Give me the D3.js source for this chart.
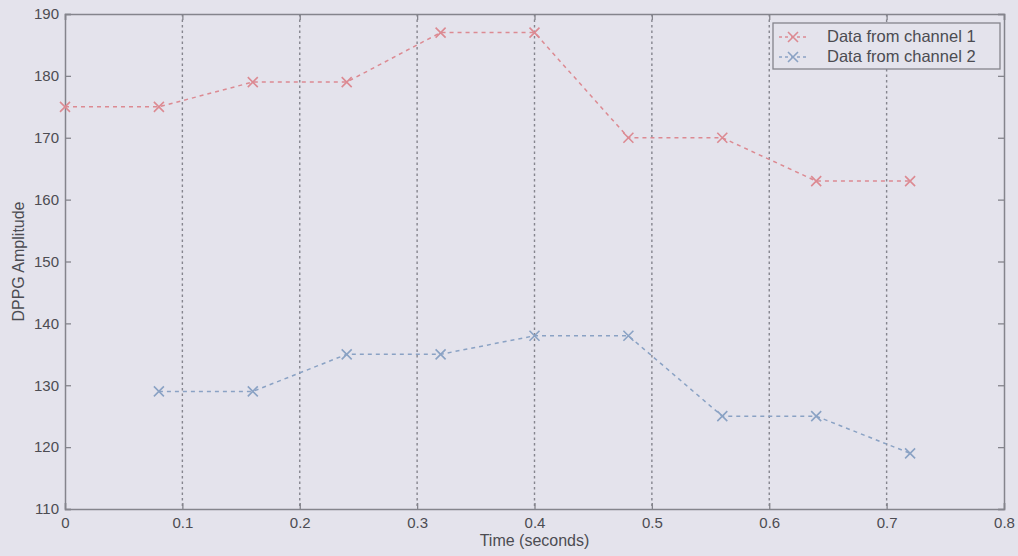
<!DOCTYPE html>
<html lang="en">
<head>
  <meta charset="utf-8">
  <title>DPPG Amplitude</title>
  <script src="https://cdn.jsdelivr.net/npm/d3@7"></script>
  <style>
    * { margin: 0; padding: 0; }
    body { background: #e4e3ec; }
    svg { display: block; font-family: "Liberation Sans", Arial, sans-serif; }
  </style>
</head>
<body>
  <div id="chart"></div>
  <script>
    // data
    var times = [0, 0.08, 0.16, 0.24, 0.32, 0.40, 0.48, 0.56, 0.64, 0.72];
    var channel1 = [175, 175, 179, 179, 187, 187, 170, 170, 163, 163];
    var channel2 = [null, 129, 129, 135, 135, 138, 138, 125, 125, 119];
    var seriesNames = ["Data from channel 1", "Data from channel 2"];
    var xTicks = [0, 0.1, 0.2, 0.3, 0.4, 0.5, 0.6, 0.7, 0.8];
    var yTicks = [110, 120, 130, 140, 150, 160, 170, 180, 190];

    var svgWidth = 1018, svgHeight = 556;
    var margin = { top: 14, right: 14, bottom: 47, left: 65 };
    var w = svgWidth - margin.left - margin.right;
    var h = svgHeight - margin.top - margin.bottom;
    var colors = ["#dc8a92", "#8aa2c4"];
    var axisColor = "#84848c";
    var textColor = "#4c4c52";

    var svg = d3.select("#chart").append("svg")
      .attr("width", svgWidth)
      .attr("height", svgHeight);

    svg.append("rect")
      .attr("width", svgWidth).attr("height", svgHeight)
      .attr("fill", "#e4e3ec");

    var g = svg.append("g")
      .attr("transform", "translate(" + margin.left + "," + margin.top + ")");

    var x = d3.scaleLinear().domain([0, 0.8]).range([0, w]);
    var y = d3.scaleLinear().domain([110, 190]).range([h, 0]);

    // vertical dotted grid
    g.append("g").selectAll("line")
      .data(xTicks.slice(1, -1))
      .join("line")
      .attr("x1", function(d) { return x(d); })
      .attr("x2", function(d) { return x(d); })
      .attr("y1", 0).attr("y2", h)
      .attr("stroke", "#85858e")
      .attr("stroke-width", 1.4)
      .attr("stroke-dasharray", "2.5,3");

    // axes
    var xAxis = g.append("g")
      .attr("transform", "translate(0," + h + ")")
      .call(d3.axisBottom(x).tickValues(xTicks).tickSize(-6).tickPadding(8)
        .tickFormat(function(d) { return d === 0 ? "0" : d3.format(".1f")(d); }));
    var yAxis = g.append("g")
      .call(d3.axisLeft(y).tickValues(yTicks).tickSize(-6).tickPadding(6));
    var xTop = g.append("g")
      .call(d3.axisTop(x).tickValues(xTicks).tickSize(-6).tickFormat(""));
    var yRight = g.append("g")
      .attr("transform", "translate(" + w + ",0)")
      .call(d3.axisRight(y).tickValues(yTicks).tickSize(-6).tickFormat(""));

    [xAxis, yAxis, xTop, yRight].forEach(function(a) {
      a.select(".domain").attr("stroke", axisColor).attr("stroke-width", 1.5);
      a.selectAll(".tick line").attr("stroke", axisColor).attr("stroke-width", 1.3);
      a.selectAll("text")
        .attr("fill", textColor)
        .attr("font-size", "15px")
        .attr("font-family", "Liberation Sans, Arial, sans-serif");
    });

    // axis labels
    svg.append("text")
      .attr("x", margin.left + w / 2)
      .attr("y", svgHeight - 10)
      .attr("text-anchor", "middle")
      .attr("fill", textColor)
      .attr("font-size", "16px")
      .text("Time (seconds)");
    svg.append("text")
      .attr("transform", "translate(24," + (margin.top + h / 2) + ") rotate(-90)")
      .attr("text-anchor", "middle")
      .attr("fill", textColor)
      .attr("font-size", "16px")
      .text("DPPG Amplitude");

    // series
    var series = [channel1, channel2];
    var line = d3.line()
      .defined(function(d) { return d[1] != null; })
      .x(function(d) { return x(d[0]); })
      .y(function(d) { return y(d[1]); });

    function cross(sel, s) {
      sel.append("path")
        .attr("d", "M" + (-s) + "," + (-s) + "L" + s + "," + s + "M" + (-s) + "," + s + "L" + s + "," + (-s))
        .attr("fill", "none");
    }

    series.forEach(function(vals, i) {
      var pts = times.map(function(t, j) { return [t, vals[j]]; });
      g.append("path")
        .datum(pts)
        .attr("d", line)
        .attr("fill", "none")
        .attr("stroke", colors[i])
        .attr("stroke-width", 1.5)
        .attr("stroke-dasharray", "4,4");
      var m = g.append("g").selectAll("g")
        .data(pts.filter(function(d) { return d[1] != null; }))
        .join("g")
        .attr("transform", function(d) { return "translate(" + x(d[0]) + "," + y(d[1]) + ")"; })
        .attr("stroke", colors[i])
        .attr("stroke-width", 1.6);
      m.each(function() { cross(d3.select(this), 5); });
    });

    // legend
    var lg = svg.append("g").attr("transform", "translate(773,23)");
    lg.append("rect")
      .attr("width", 227).attr("height", 46)
      .attr("fill", "#e4e3ec")
      .attr("stroke", axisColor)
      .attr("stroke-width", 1.3);
    seriesNames.forEach(function(name, i) {
      var row = lg.append("g").attr("transform", "translate(0," + (14 + i * 20) + ")");
      row.append("line")
        .attr("x1", 6).attr("x2", 34)
        .attr("stroke", colors[i]).attr("stroke-width", 1.5)
        .attr("stroke-dasharray", "3,3");
      var mk = row.append("g").attr("transform", "translate(20,0)")
        .attr("stroke", colors[i]).attr("stroke-width", 1.6);
      cross(mk, 5);
      row.append("text")
        .attr("x", 54).attr("y", 5)
        .attr("fill", textColor)
        .attr("font-size", "16.5px")
        .text(name);
    });
  </script>
</body>
</html>
